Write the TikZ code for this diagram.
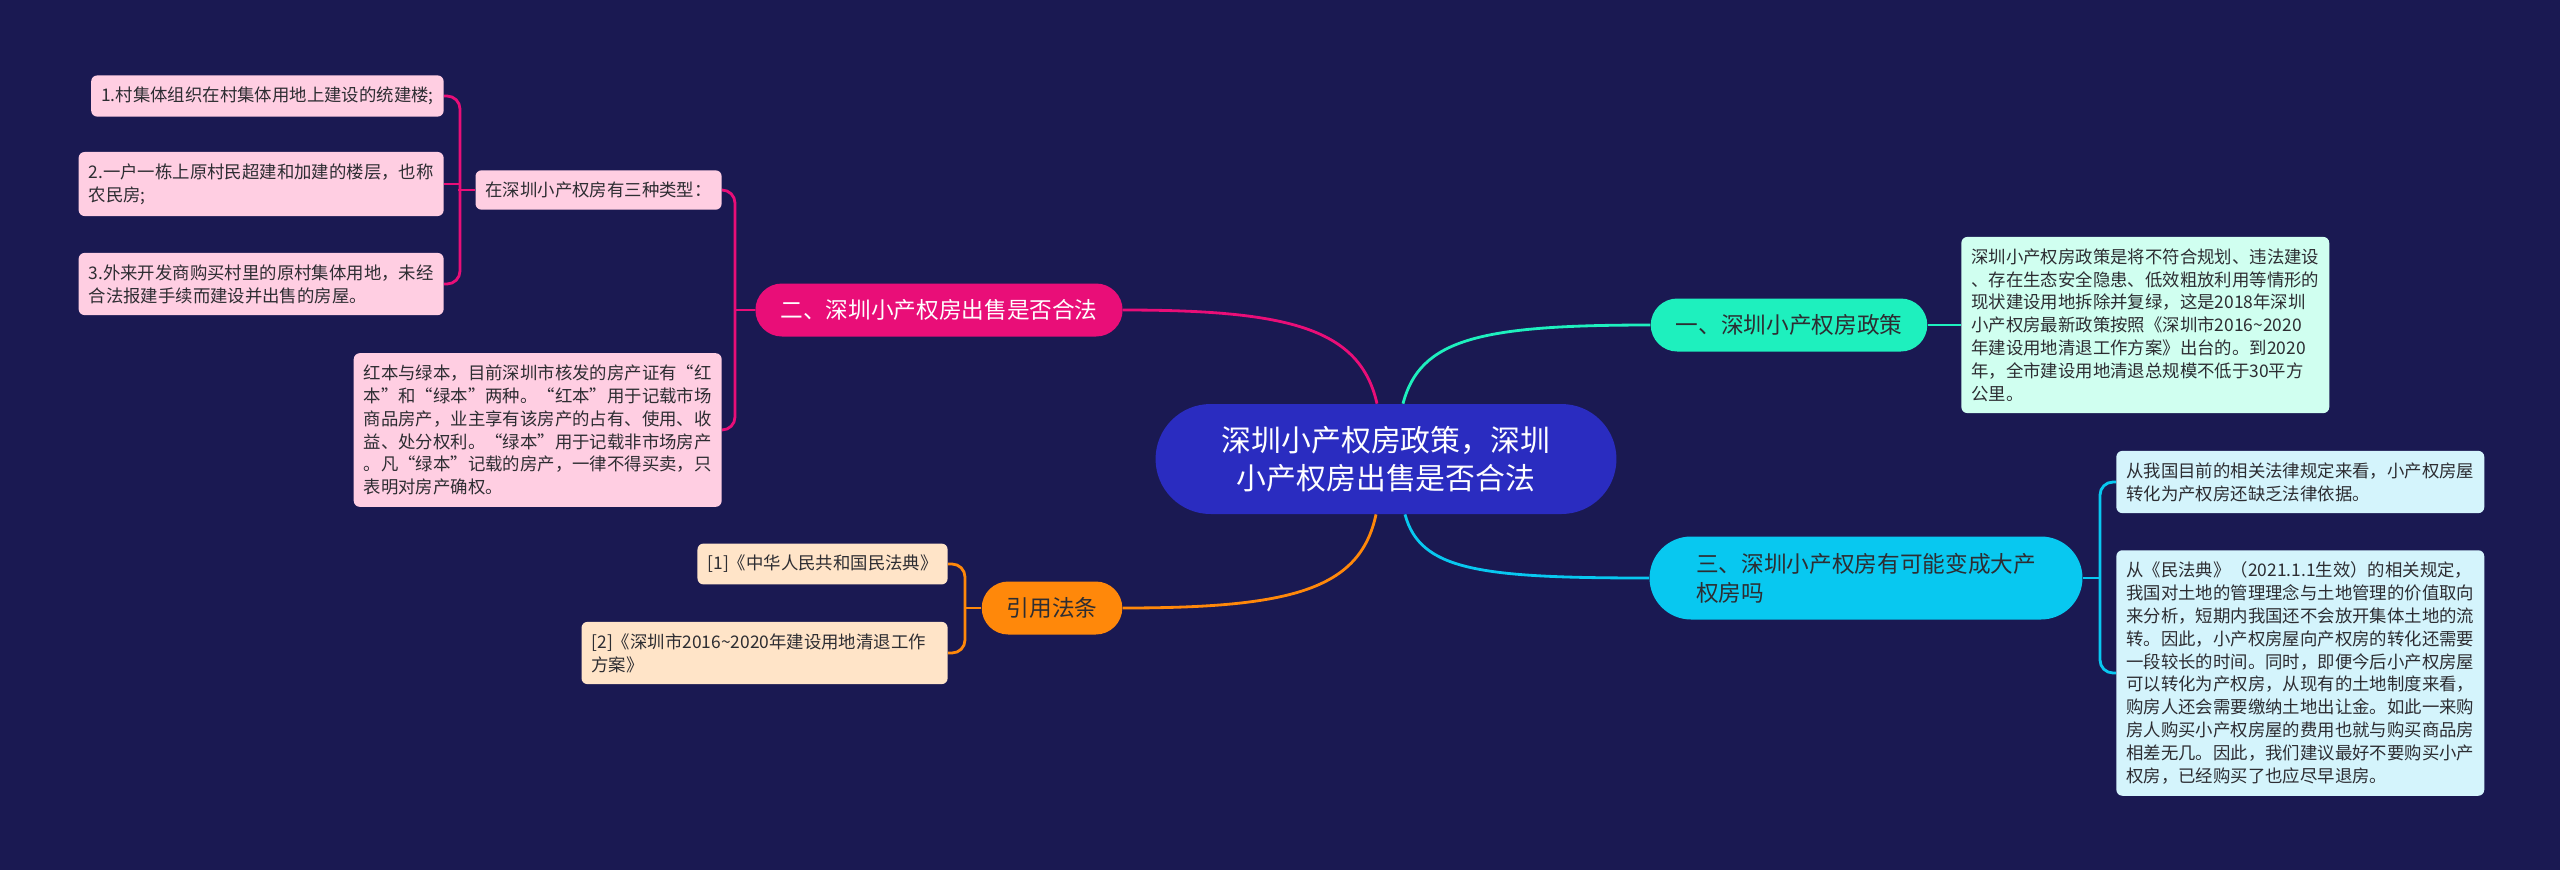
\documentclass[tikz,border=0pt]{standalone}
\usepackage{fontspec}
\setmainfont{Noto Sans CJK SC}

\definecolor{bgnavy}{RGB}{26,25,82}
\definecolor{rootblue}{RGB}{42,44,192}
\definecolor{mint}{RGB}{30,240,190}
\definecolor{rose}{RGB}{233,14,120}
\definecolor{amber}{RGB}{255,136,10}
\definecolor{sky}{RGB}{8,200,240}
\definecolor{mintpale}{RGB}{208,255,240}
\definecolor{rosepale}{RGB}{255,206,226}
\definecolor{amberpale}{RGB}{255,228,200}
\definecolor{skypale}{RGB}{212,244,252}
\definecolor{inktext}{RGB}{45,45,50}

\pgfdeclarelayer{bg}
\pgfdeclarelayer{edges}
\pgfsetlayers{bg,edges,main}

\begin{document}
\begin{tikzpicture}[x=0.02cm, y=-0.02cm,
        leaf/.style={rounded corners=0.12cm, inner xsep=5.7pt, inner ysep=6.6pt, align=left, text=inktext, font=\fontsize{9.9}{13}\selectfont},
        branch/.style={rounded corners=0.53cm, minimum height=1.06cm, inner xsep=14.2pt, font=\fontsize{12.9}{16.5}\selectfont},
        link/.style={line width=1.6pt}]

        \begin{pgfonlayer}{bg}
            \fill [bgnavy] (0, 0) rectangle (2560, 870);
        \end{pgfonlayer}

        \node (n0) at (1386, 459) [fill=rootblue, text=white, rounded corners=1.1cm, minimum width=9.22cm, minimum height=2.2cm, align=center, font=\fontsize{17}{21.5}\selectfont] {深圳小产权房政策，深圳\\小产权房出售是否合法};

        \node (n1) at (1789, 325) [branch, fill=mint, text=inktext] {一、深圳小产权房政策};
        \node (n2) at (939, 310) [branch, fill=rose, text=white] {二、深圳小产权房出售是否合法};
        \node (n3) at (1866, 578) [branch, fill=sky, text=inktext, rounded corners=0.83cm, minimum height=1.66cm, minimum width=8.66cm, align=left] {三、深圳小产权房有可能变成大产\\权房吗};
        \node (n4) at (1052, 608) [branch, fill=amber, text=inktext] {引用法条};

        \node (n11) at (1961, 325) [leaf, anchor=west, fill=mintpale] {深圳小产权房政策是将不符合规划、违法建设\\、存在生态安全隐患、低效粗放利用等情形的\\现状建设用地拆除并复绿，这是2018年深圳\\小产权房最新政策按照《深圳市2016\textasciitilde2020\\年建设用地清退工作方案》出台的。到2020\\年，全市建设用地清退总规模不低于30平方\\公里。};

        \node (n31) at (2116, 482) [leaf, anchor=west, fill=skypale] {从我国目前的相关法律规定来看，小产权房屋\\转化为产权房还缺乏法律依据。};
        \node (n32) at (2116, 673) [leaf, anchor=west, fill=skypale] {从《民法典》（2021.1.1生效）的相关规定，\\我国对土地的管理理念与土地管理的价值取向\\来分析，短期内我国还不会放开集体土地的流\\转。因此，小产权房屋向产权房的转化还需要\\一段较长的时间。同时，即便今后小产权房屋\\可以转化为产权房，从现有的土地制度来看，\\购房人还会需要缴纳土地出让金。如此一来购\\房人购买小产权房屋的费用也就与购买商品房\\相差无几。因此，我们建议最好不要购买小产\\权房，已经购买了也应尽早退房。};

        \node (n21) at (722, 190) [leaf, anchor=east, fill=rosepale] {在深圳小产权房有三种类型：};
        \node (n22) at (722, 430) [leaf, anchor=east, fill=rosepale] {红本与绿本，目前深圳市核发的房产证有“红\\本”和“绿本”两种。“红本”用于记载市场\\商品房产，业主享有该房产的占有、使用、收\\益、处分权利。“绿本”用于记载非市场房产\\。凡“绿本”记载的房产，一律不得买卖，只\\表明对房产确权。};

        \node (n211) at (444, 96) [leaf, anchor=east, fill=rosepale] {1.村集体组织在村集体用地上建设的统建楼;};
        \node (n212) at (444, 184) [leaf, anchor=east, fill=rosepale] {2.一户一栋上原村民超建和加建的楼层，也称\\农民房;};
        \node (n213) at (444, 284) [leaf, anchor=east, fill=rosepale] {3.外来开发商购买村里的原村集体用地，未经\\合法报建手续而建设并出售的房屋。};

        \node (n41) at (948, 564) [leaf, anchor=east, fill=amberpale] {[1]《中华人民共和国民法典》};
        \node (n42) at (948, 653) [leaf, anchor=east, fill=amberpale, text width=197pt] {[2]《深圳市2016\textasciitilde2020年建设用地清退工作\\方案》};

        \begin{pgfonlayer}{edges}
            \draw [link, mint] ([xshift=0.34cm]n0.north) .. controls +(17, -65) and +(-170, 0) .. (n1.west);
            \draw [link, rose] ([xshift=-0.18cm]n0.north) .. controls +(-17, -75) and +(167, 0) .. (n2.east);
            \draw [link, amber] ([xshift=-0.2cm]n0.south) .. controls +(-16, 76) and +(167, 0) .. (n4.east);
            \draw [link, sky] ([xshift=0.38cm]n0.south) .. controls +(15, 56) and +(-170, 0) .. (n3.west);

            \draw [link, mint] (n1.east) -- (n11.west);

            \draw [link, sky] (n3.east) -- ++(17, 0);
            \draw [link, sky, rounded corners=0.26cm] (n31.west) -- ++(-16, 0) |- (n32.west);

            \draw [link, rose] (n2.west) -- ++(-20, 0);
            \draw [link, rose, rounded corners=0.26cm] (n21.east) -- ++(13, 0) |- (n22.east);
            \draw [link, rose] (n21.west) -- ++(-17, 0);
            \draw [link, rose, rounded corners=0.26cm] (n211.east) -- ++(16, 0) |- (n213.east);
            \draw [link, rose] (n212.east) -- ++(16, 0);

            \draw [link, amber] (n4.west) -- ++(-16, 0);
            \draw [link, amber, rounded corners=0.26cm] (n41.east) -- ++(17, 0) |- (n42.east);
        \end{pgfonlayer}

    \end{tikzpicture}
\end{document}
